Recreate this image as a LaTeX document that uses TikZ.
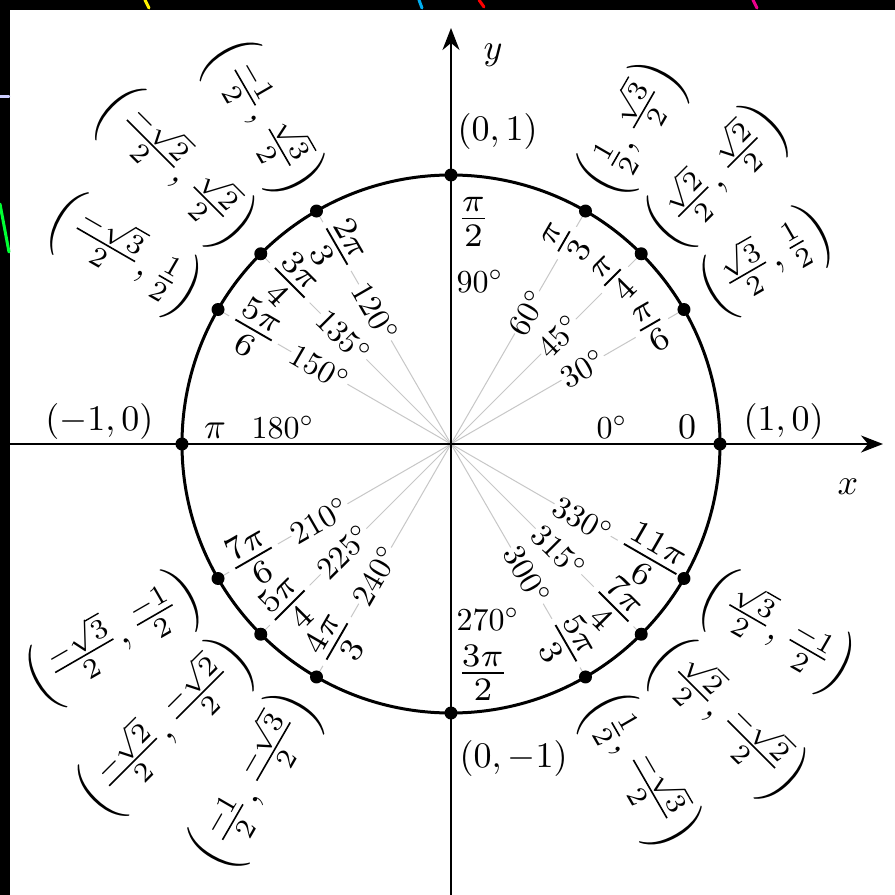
\documentclass[tikz,border=0pt]{standalone}
\usepackage{amsmath}
\usetikzlibrary{arrows.meta}
\begin{document}
\begin{tikzpicture}[x=1pt,y=1pt,
  lab/.style={inner sep=0.3pt, fill=white},
  deg/.style={lab, scale=3.2},
  rad/.style={lab, scale=4.7},
  rad0/.style={lab, scale=3.6},
  txt/.style={inner sep=0pt, scale=3.6},
  crd/.style={inner sep=0pt, scale=4.0},
  dotnode/.style={circle, fill=black, inner sep=0pt, minimum size=13pt},
  ray/.style={draw=black!22, line width=1pt},
  axis/.style={draw=black, line width=2pt},
  glow/.style={line width=3pt, line cap=round}
]
\useasboundingbox (-451,-451) rectangle (444,444);
\fill[black] (-451,-451) rectangle (444,444);
\fill[white] (-441,-451) rectangle (444,434);
% decorative strokes in the black margin
\draw[glow, yellow] (-306,444) -- (-302,436);
\draw[glow, cyan] (-32,444) -- (-29,436);
\draw[glow, red] (28,444) -- (33,437);
\draw[glow, magenta] (302,444) -- (306,436);
\draw[glow, white!80!blue] (-451,347) -- (-442,347);
\draw[glow, green!80!cyan] (-451,240) -- (-442,192);

\coordinate (O) at (0,0);
\foreach \a in {0,30,45,60,90,120,135,150,180,210,225,240,270,300,315,330}
  \coordinate (p\a) at (\a:269);

% rays
\foreach \a in {30,45,60,120,135,150,210,225,240,300,315,330}
  \draw[ray] (O) -- (p\a);

% degree labels
\foreach \a/\r in {30/30,45/45,60/60,120/-60,135/-45,150/-30,210/30,225/45,240/60,300/300,315/315,330/330}
  \node[deg, rotate=\r] (d\a) at (\a:152) {$\a^\circ$};
\node[deg, anchor=base] (d0) at (161,6) {$0^\circ$};
\node[deg, anchor=base] (d180) at (-168,6) {$180^\circ$};
\node[deg, anchor=west] (d90) at (4,163) {$90^\circ$};
\node[deg, anchor=west] (d270) at (4,-175) {$270^\circ$};

% radian labels
\node[rad, rotate=30]  (r30)  at (30:232)  {$\frac{\pi}{6}$};
\node[rad, rotate=45]  (r45)  at (45:232)  {$\frac{\pi}{4}$};
\node[rad, rotate=60]  (r60)  at (60:232)  {$\frac{\pi}{3}$};
\node[rad, rotate=-60] (r120) at (120:228) {$\frac{2\pi}{3}$};
\node[rad, rotate=-45] (r135) at (135:228) {$\frac{3\pi}{4}$};
\node[rad, rotate=-30] (r150) at (150:228) {$\frac{5\pi}{6}$};
\node[rad, rotate=30]  (r210) at (210:228) {$\frac{7\pi}{6}$};
\node[rad, rotate=45]  (r225) at (225:228) {$\frac{5\pi}{4}$};
\node[rad, rotate=60]  (r240) at (240:228) {$\frac{4\pi}{3}$};
\node[rad, rotate=-60] (r300) at (300:230) {$\frac{5\pi}{3}$};
\node[rad, rotate=-45] (r315) at (315:230) {$\frac{7\pi}{4}$};
\node[rad, rotate=-30] (r330) at (330:230) {$\frac{11\pi}{6}$};
\node[rad0, anchor=base] (r0) at (236,6) {$0$};
\node[rad0, anchor=base] (r180) at (-236,6) {$\pi$};
\node[rad, anchor=west] (r90) at (3,222) {$\frac{\pi}{2}$};
\node[rad, anchor=west] (r270) at (3,-229) {$\frac{3\pi}{2}$};

% axes
\coordinate (xl) at (-441,0);
\coordinate (xr) at (432,0);
\coordinate (yb) at (0,-451);
\coordinate (yt) at (0,416);
\draw[axis, -{Stealth[length=22pt,width=17pt,inset=7pt]}] (xl) -- (xr);
\draw[axis, -{Stealth[length=22pt,width=17pt,inset=7pt]}] (yb) -- (yt);
\node[txt] (xlab) at (397,-43) {$x$};
\node[txt] (ylab) at (42,389) {$y$};

% circle
\draw[line width=3pt] (O) circle (269);
\foreach \a in {0,30,45,60,90,120,135,150,180,210,225,240,270,300,315,330}
  \node[dotnode] (dot\a) at (p\a) {};

% coordinate labels
\node[txt, anchor=south west] (c90) at (6,294) {$(0,1)$};
\node[txt, anchor=north west] (c270) at (8,-296) {$(0,-1)$};
\node[txt, anchor=south west] (c0) at (292,4) {$(1,0)$};
\node[txt, anchor=south east] (c180) at (-297,4) {$(-1,0)$};

\node[crd, anchor=west, rotate=30] (c30) at (30:292) {$\left(\frac{\sqrt{3}}{2},\frac{1}{2}\right)$};
\node[crd, anchor=west, rotate=45] (c45) at (45:292) {$\left(\frac{\sqrt{2}}{2},\frac{\sqrt{2}}{2}\right)$};
\node[crd, anchor=west, rotate=60] (c60) at (60:292) {$\left(\frac{1}{2},\frac{\sqrt{3}}{2}\right)$};
\node[crd, anchor=west, rotate=-30] (c330) at (330:292) {$\left(\frac{\sqrt{3}}{2},\frac{-1}{2}\right)$};
\node[crd, anchor=west, rotate=-45] (c315) at (315:292) {$\left(\frac{\sqrt{2}}{2},\frac{-\sqrt{2}}{2}\right)$};
\node[crd, anchor=west, rotate=-60] (c300) at (300:292) {$\left(\frac{1}{2},\frac{-\sqrt{3}}{2}\right)$};

\node[crd, anchor=east, rotate=-60] (c120) at (120:292) {$\left(\frac{-1}{2},\frac{\sqrt{3}}{2}\right)$};
\node[crd, anchor=east, rotate=-45] (c135) at (135:292) {$\left(\frac{-\sqrt{2}}{2},\frac{\sqrt{2}}{2}\right)$};
\node[crd, anchor=east, rotate=-30] (c150) at (150:292) {$\left(\frac{-\sqrt{3}}{2},\frac{1}{2}\right)$};
\node[crd, anchor=east, rotate=30] (c210) at (210:292) {$\left(\frac{-\sqrt{3}}{2},\frac{-1}{2}\right)$};
\node[crd, anchor=east, rotate=45] (c225) at (225:292) {$\left(\frac{-\sqrt{2}}{2},\frac{-\sqrt{2}}{2}\right)$};
\node[crd, anchor=east, rotate=60] (c240) at (240:292) {$\left(\frac{-1}{2},\frac{-\sqrt{3}}{2}\right)$};
\end{tikzpicture}
\end{document}
